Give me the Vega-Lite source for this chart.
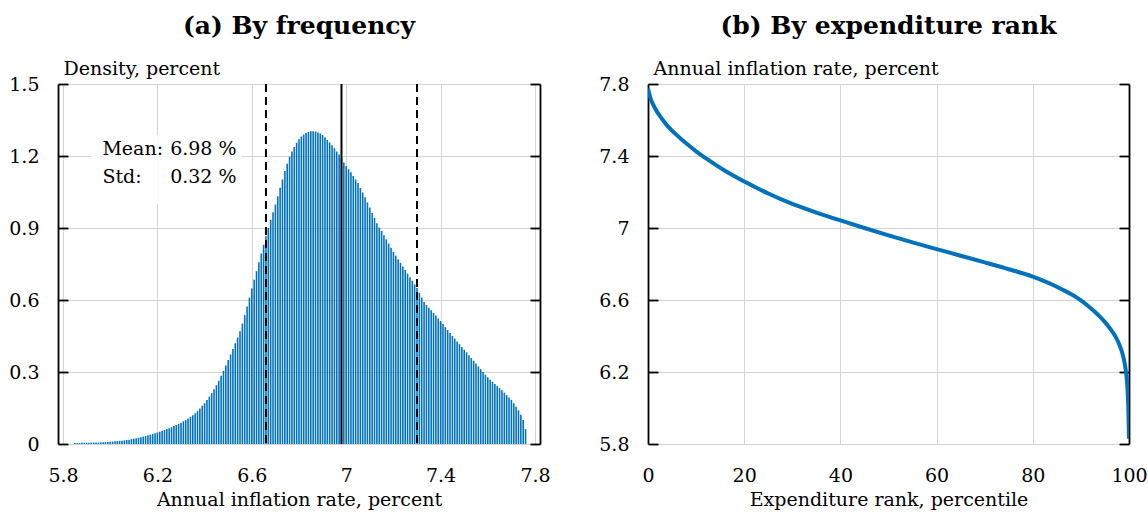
{
  "$schema": "https://vega.github.io/schema/vega-lite/v6.json",
  "background": "white",
  "padding": {"left": 8, "top": 14, "right": 5, "bottom": 5},
  "spacing": 47,
  "config": {
    "font": "DejaVu Serif",
    "view": {"stroke": null},
    "axis": {
      "labelFont": "DejaVu Serif", "titleFont": "DejaVu Serif",
      "labelFontSize": 19, "titleFontSize": 19,
      "labelColor": "black", "titleColor": "black", "titleFontWeight": "normal",
      "gridColor": "#d4d4d4", "gridWidth": 1,
      "domainColor": "black", "tickColor": "black", "domainWidth": 1.8, "tickWidth": 1.8,
      "labelOverlap": false, "labelFlush": false
    },
    "title": {"font": "DejaVu Serif", "fontSize": 25, "fontWeight": "bold", "color": "black", "anchor": "middle"}
  },
  "datasets": {
    "hist": [
      {"rate":5.85,"density":0.004},{"rate":5.86,"density":0.004},{"rate":5.87,"density":0.004},{"rate":5.88,"density":0.005},{"rate":5.89,"density":0.005},
      {"rate":5.90,"density":0.005},{"rate":5.91,"density":0.005},{"rate":5.92,"density":0.006},{"rate":5.93,"density":0.006},{"rate":5.94,"density":0.006},
      {"rate":5.95,"density":0.006},{"rate":5.96,"density":0.007},{"rate":5.97,"density":0.007},{"rate":5.98,"density":0.008},{"rate":5.99,"density":0.008},
      {"rate":6.00,"density":0.009},{"rate":6.01,"density":0.010},{"rate":6.02,"density":0.011},{"rate":6.03,"density":0.012},{"rate":6.04,"density":0.013},
      {"rate":6.05,"density":0.014},{"rate":6.06,"density":0.015},{"rate":6.07,"density":0.017},{"rate":6.08,"density":0.018},{"rate":6.09,"density":0.020},
      {"rate":6.10,"density":0.022},{"rate":6.11,"density":0.024},{"rate":6.12,"density":0.026},{"rate":6.13,"density":0.028},{"rate":6.14,"density":0.031},
      {"rate":6.15,"density":0.033},{"rate":6.16,"density":0.036},{"rate":6.17,"density":0.039},{"rate":6.18,"density":0.042},{"rate":6.19,"density":0.045},
      {"rate":6.20,"density":0.048},{"rate":6.21,"density":0.051},{"rate":6.22,"density":0.055},{"rate":6.23,"density":0.058},{"rate":6.24,"density":0.062},
      {"rate":6.25,"density":0.066},{"rate":6.26,"density":0.070},{"rate":6.27,"density":0.075},{"rate":6.28,"density":0.079},{"rate":6.29,"density":0.084},
      {"rate":6.30,"density":0.089},{"rate":6.31,"density":0.095},{"rate":6.32,"density":0.100},{"rate":6.33,"density":0.106},{"rate":6.34,"density":0.113},
      {"rate":6.35,"density":0.120},{"rate":6.36,"density":0.128},{"rate":6.37,"density":0.137},{"rate":6.38,"density":0.148},{"rate":6.39,"density":0.159},
      {"rate":6.40,"density":0.170},{"rate":6.41,"density":0.183},{"rate":6.42,"density":0.197},{"rate":6.43,"density":0.212},{"rate":6.44,"density":0.228},
      {"rate":6.45,"density":0.245},{"rate":6.46,"density":0.264},{"rate":6.47,"density":0.284},{"rate":6.48,"density":0.305},{"rate":6.49,"density":0.327},
      {"rate":6.50,"density":0.350},{"rate":6.51,"density":0.373},{"rate":6.52,"density":0.396},{"rate":6.53,"density":0.420},{"rate":6.54,"density":0.444},
      {"rate":6.55,"density":0.470},{"rate":6.56,"density":0.502},{"rate":6.57,"density":0.537},{"rate":6.58,"density":0.573},{"rate":6.59,"density":0.610},
      {"rate":6.60,"density":0.648},{"rate":6.61,"density":0.684},{"rate":6.62,"density":0.720},{"rate":6.63,"density":0.757},{"rate":6.64,"density":0.794},
      {"rate":6.65,"density":0.830},{"rate":6.66,"density":0.866},{"rate":6.67,"density":0.900},{"rate":6.68,"density":0.934},{"rate":6.69,"density":0.966},
      {"rate":6.70,"density":0.998},{"rate":6.71,"density":1.032},{"rate":6.72,"density":1.068},{"rate":6.73,"density":1.102},{"rate":6.74,"density":1.137},
      {"rate":6.75,"density":1.168},{"rate":6.76,"density":1.197},{"rate":6.77,"density":1.219},{"rate":6.78,"density":1.238},{"rate":6.79,"density":1.255},
      {"rate":6.80,"density":1.270},{"rate":6.81,"density":1.281},{"rate":6.82,"density":1.290},{"rate":6.83,"density":1.296},{"rate":6.84,"density":1.300},
      {"rate":6.85,"density":1.303},{"rate":6.86,"density":1.303},{"rate":6.87,"density":1.302},{"rate":6.88,"density":1.298},{"rate":6.89,"density":1.294},
      {"rate":6.90,"density":1.288},{"rate":6.91,"density":1.278},{"rate":6.92,"density":1.267},{"rate":6.93,"density":1.256},{"rate":6.94,"density":1.245},
      {"rate":6.95,"density":1.232},{"rate":6.96,"density":1.219},{"rate":6.97,"density":1.206},{"rate":6.98,"density":1.190},{"rate":6.99,"density":1.173},
      {"rate":7.00,"density":1.158},{"rate":7.01,"density":1.145},{"rate":7.02,"density":1.132},{"rate":7.03,"density":1.117},{"rate":7.04,"density":1.102},
      {"rate":7.05,"density":1.087},{"rate":7.06,"density":1.067},{"rate":7.07,"density":1.048},{"rate":7.08,"density":1.028},{"rate":7.09,"density":1.007},
      {"rate":7.10,"density":0.985},{"rate":7.11,"density":0.963},{"rate":7.12,"density":0.942},{"rate":7.13,"density":0.920},{"rate":7.14,"density":0.902},
      {"rate":7.15,"density":0.888},{"rate":7.16,"density":0.870},{"rate":7.17,"density":0.853},{"rate":7.18,"density":0.835},{"rate":7.19,"density":0.818},
      {"rate":7.20,"density":0.800},{"rate":7.21,"density":0.785},{"rate":7.22,"density":0.770},{"rate":7.23,"density":0.755},{"rate":7.24,"density":0.740},
      {"rate":7.25,"density":0.725},{"rate":7.26,"density":0.710},{"rate":7.27,"density":0.695},{"rate":7.28,"density":0.680},{"rate":7.29,"density":0.665},
      {"rate":7.30,"density":0.650},{"rate":7.31,"density":0.630},{"rate":7.32,"density":0.610},{"rate":7.33,"density":0.592},{"rate":7.34,"density":0.579},
      {"rate":7.35,"density":0.568},{"rate":7.36,"density":0.557},{"rate":7.37,"density":0.546},{"rate":7.38,"density":0.535},{"rate":7.39,"density":0.523},
      {"rate":7.40,"density":0.512},{"rate":7.41,"density":0.500},{"rate":7.42,"density":0.487},{"rate":7.43,"density":0.475},{"rate":7.44,"density":0.462},
      {"rate":7.45,"density":0.450},{"rate":7.46,"density":0.439},{"rate":7.47,"density":0.427},{"rate":7.48,"density":0.416},{"rate":7.49,"density":0.404},
      {"rate":7.50,"density":0.393},{"rate":7.51,"density":0.382},{"rate":7.52,"density":0.370},{"rate":7.53,"density":0.358},{"rate":7.54,"density":0.347},
      {"rate":7.55,"density":0.335},{"rate":7.56,"density":0.323},{"rate":7.57,"density":0.312},{"rate":7.58,"density":0.300},{"rate":7.59,"density":0.289},
      {"rate":7.60,"density":0.278},{"rate":7.61,"density":0.268},{"rate":7.62,"density":0.259},{"rate":7.63,"density":0.250},{"rate":7.64,"density":0.242},
      {"rate":7.65,"density":0.233},{"rate":7.66,"density":0.224},{"rate":7.67,"density":0.214},{"rate":7.68,"density":0.204},{"rate":7.69,"density":0.194},
      {"rate":7.70,"density":0.184},{"rate":7.71,"density":0.170},{"rate":7.72,"density":0.155},{"rate":7.73,"density":0.140},{"rate":7.74,"density":0.122},
      {"rate":7.75,"density":0.100},{"rate":7.76,"density":0.062}
    ],
    "stats": [
      {"stat": "mean", "rate": 6.98},
      {"stat": "mean - std", "rate": 6.66},
      {"stat": "mean + std", "rate": 7.30}
    ],
    "rank": [
      {"rank":0,"rate":7.775},{"rank":0.5,"rate":7.722},{"rank":1,"rate":7.69},{"rank":1.5,"rate":7.664},{"rank":2,"rate":7.641},
      {"rank":3,"rate":7.603},{"rank":4,"rate":7.569},{"rank":5,"rate":7.541},{"rank":6,"rate":7.516},{"rank":7,"rate":7.492},
      {"rank":8,"rate":7.469},{"rank":9,"rate":7.447},{"rank":10,"rate":7.426},{"rank":12,"rate":7.388},{"rank":14,"rate":7.352},
      {"rank":16,"rate":7.318},{"rank":18,"rate":7.287},{"rank":20,"rate":7.258},{"rank":22,"rate":7.231},{"rank":25,"rate":7.192},
      {"rank":30,"rate":7.134},{"rank":35,"rate":7.086},{"rank":40,"rate":7.042},{"rank":45,"rate":7.0},{"rank":50,"rate":6.959},
      {"rank":55,"rate":6.92},{"rank":60,"rate":6.883},{"rank":65,"rate":6.846},{"rank":70,"rate":6.809},{"rank":75,"rate":6.771},
      {"rank":80,"rate":6.73},{"rank":82,"rate":6.709},{"rank":84,"rate":6.686},{"rank":86,"rate":6.66},{"rank":88,"rate":6.632},
      {"rank":89,"rate":6.616},{"rank":90,"rate":6.598},{"rank":91,"rate":6.578},{"rank":92,"rate":6.556},{"rank":93,"rate":6.532},
      {"rank":94,"rate":6.506},{"rank":95,"rate":6.477},{"rank":96,"rate":6.444},{"rank":97,"rate":6.405},{"rank":97.5,"rate":6.381},
      {"rank":98,"rate":6.352},{"rank":98.5,"rate":6.315},{"rank":99,"rate":6.262},{"rank":99.3,"rate":6.215},{"rank":99.5,"rate":6.17},
      {"rank":99.7,"rate":6.1},{"rank":99.85,"rate":6.01},{"rank":99.95,"rate":5.9},{"rank":100,"rate":5.83}
    ]
  },
  "hconcat": [
    {
      "width": 482,
      "height": 360,
      "title": {"text": "(a) By frequency", "offset": 20},
      "layer": [
        {
          "layer": [
            {
              "data": {"values": [{}]},
              "mark": {"type": "rect", "fill": "white", "opacity": 0.85},
              "encoding": {
                "x": {"datum": 5.92, "type": "quantitative", "scale": {"domain": [5.8, 7.8], "nice": false, "zero": false}},
                "x2": {"datum": 6.557},
                "y": {"datum": 1.0, "type": "quantitative", "scale": {"domain": [0, 1.5], "nice": false}},
                "y2": {"datum": 1.2875}
              }
            },
            {
              "data": {"name": "hist"},
              "mark": {"type": "bar", "size": 1.6, "color": "#0072BD"},
              "encoding": {
                "x": {
                  "field": "rate", "type": "quantitative",
                  "scale": {"domain": [5.8, 7.8], "nice": false, "zero": false},
                  "axis": {
                    "values": [5.8, 6.2, 6.6, 7, 7.4, 7.8], "format": ".1~f",
                    "domain": false, "ticks": false, "grid": true,
                    "labelPadding": 22, "title": "Annual inflation rate, percent", "titlePadding": 5
                  }
                },
                "y": {
                  "field": "density", "type": "quantitative",
                  "scale": {"domain": [0, 1.5], "nice": false},
                  "axis": {
                    "values": [0, 0.3, 0.6, 0.9, 1.2, 1.5], "format": ".1~f",
                    "grid": true, "domain": true, "ticks": true, "tickSize": -10,
                    "labelPadding": 29, "labelBaseline": "middle",
                    "title": "Density, percent", "titleAngle": 0, "titleAlign": "left",
                    "titleBaseline": "alphabetic", "titleX": 5, "titleY": -10
                  }
                }
              }
            },
            {
              "data": {"name": "stats"},
              "mark": {"type": "rule", "color": "black", "strokeWidth": 2},
              "encoding": {
                "x": {"field": "rate", "type": "quantitative", "scale": {"domain": [5.8, 7.8], "nice": false, "zero": false}},
                "strokeDash": {"condition": {"test": "datum.stat === 'mean'", "value": [1, 0]}, "value": [8, 5]}
              }
            },
            {
              "data": {"values": [{}]},
              "mark": {"type": "text", "text": "Mean:", "align": "left", "baseline": "alphabetic", "fontSize": 19, "font": "DejaVu Serif", "color": "black"},
              "encoding": {
                "x": {"datum": 5.967, "type": "quantitative", "scale": {"domain": [5.8, 7.8], "nice": false, "zero": false}},
                "y": {"datum": 1.204, "type": "quantitative", "scale": {"domain": [0, 1.5], "nice": false}}
              }
            },
            {
              "data": {"values": [{}]},
              "mark": {"type": "text", "text": "6.98 %", "align": "left", "baseline": "alphabetic", "fontSize": 19, "font": "DejaVu Serif", "color": "black"},
              "encoding": {
                "x": {"datum": 6.254, "type": "quantitative", "scale": {"domain": [5.8, 7.8], "nice": false, "zero": false}},
                "y": {"datum": 1.204, "type": "quantitative", "scale": {"domain": [0, 1.5], "nice": false}}
              }
            },
            {
              "data": {"values": [{}]},
              "mark": {"type": "text", "text": "Std:", "align": "left", "baseline": "alphabetic", "fontSize": 19, "font": "DejaVu Serif", "color": "black"},
              "encoding": {
                "x": {"datum": 5.967, "type": "quantitative", "scale": {"domain": [5.8, 7.8], "nice": false, "zero": false}},
                "y": {"datum": 1.0875, "type": "quantitative", "scale": {"domain": [0, 1.5], "nice": false}}
              }
            },
            {
              "data": {"values": [{}]},
              "mark": {"type": "text", "text": "0.32 %", "align": "left", "baseline": "alphabetic", "fontSize": 19, "font": "DejaVu Serif", "color": "black"},
              "encoding": {
                "x": {"datum": 6.254, "type": "quantitative", "scale": {"domain": [5.8, 7.8], "nice": false, "zero": false}},
                "y": {"datum": 1.0875, "type": "quantitative", "scale": {"domain": [0, 1.5], "nice": false}}
              }
            }
          ]
        },
        {
          "data": {"values": [{}]},
          "mark": {"type": "rule", "opacity": 0},
          "encoding": {
            "y": {
              "datum": 0, "type": "quantitative",
              "scale": {"domain": [0, 1.5], "nice": false},
              "axis": {"orient": "right", "values": [0, 0.3, 0.6, 0.9, 1.2, 1.5], "labels": false, "grid": false, "tickSize": -10, "title": null}
            }
          }
        }
      ],
      "resolve": {"scale": {"y": "independent"}}
    },
    {
      "width": 481,
      "height": 360,
      "title": {"text": "(b) By expenditure rank", "offset": 20},
      "layer": [
        {
          "data": {"name": "rank"},
          "mark": {"type": "line", "color": "#0072BD", "strokeWidth": 4, "interpolate": "monotone", "clip": true},
          "encoding": {
            "x": {
              "field": "rank", "type": "quantitative",
              "scale": {"domain": [0, 100], "nice": false},
              "axis": {
                "values": [0, 20, 40, 60, 80, 100], "format": "d",
                "domain": false, "ticks": false, "grid": true,
                "labelPadding": 22, "title": "Expenditure rank, percentile", "titlePadding": 5
              }
            },
            "y": {
              "field": "rate", "type": "quantitative",
              "scale": {"domain": [5.8, 7.8], "nice": false, "zero": false},
              "axis": {
                "values": [5.8, 6.2, 6.6, 7, 7.4, 7.8], "format": ".1~f",
                "grid": true, "domain": true, "ticks": true, "tickSize": -10,
                "labelPadding": 29, "labelBaseline": "middle",
                "title": "Annual inflation rate, percent", "titleAngle": 0, "titleAlign": "left",
                "titleBaseline": "alphabetic", "titleX": 5, "titleY": -10
              }
            }
          }
        },
        {
          "data": {"values": [{}]},
          "mark": {"type": "rule", "opacity": 0},
          "encoding": {
            "y": {
              "datum": 5.8, "type": "quantitative",
              "scale": {"domain": [5.8, 7.8], "nice": false, "zero": false},
              "axis": {"orient": "right", "values": [5.8, 6.2, 6.6, 7, 7.4, 7.8], "labels": false, "grid": false, "tickSize": -10, "title": null}
            }
          }
        }
      ],
      "resolve": {"scale": {"y": "independent"}}
    }
  ]
}
